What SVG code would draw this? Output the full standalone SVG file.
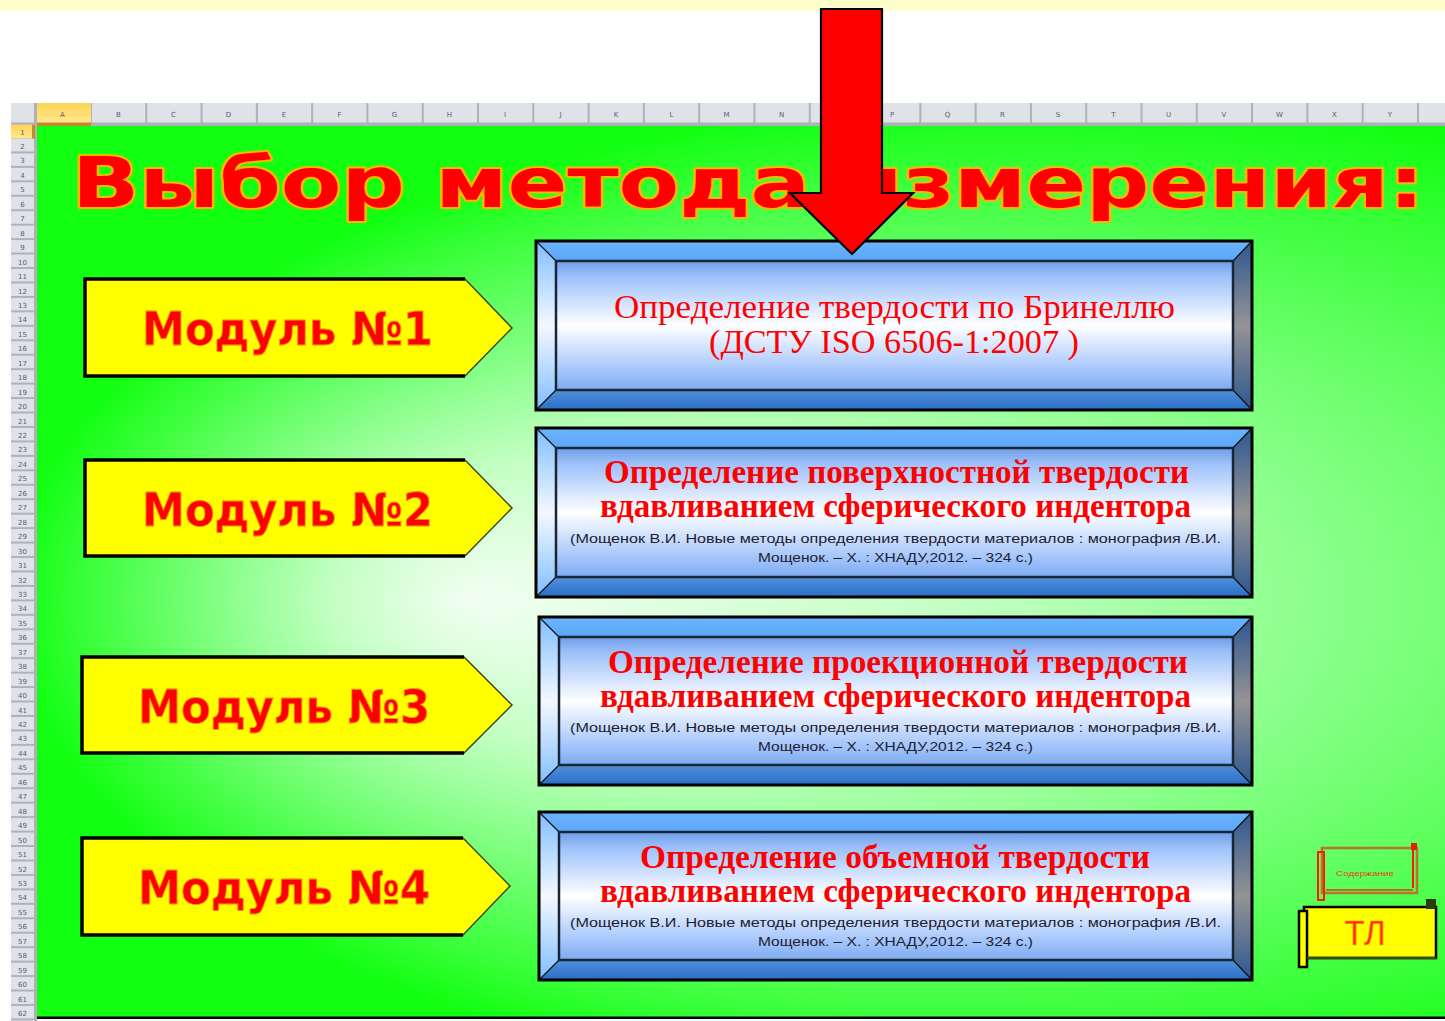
<svg xmlns="http://www.w3.org/2000/svg" width="1445" height="1021" viewBox="0 0 1445 1021">
<defs>
<radialGradient id="gBg" gradientUnits="userSpaceOnUse" cx="0" cy="0" r="1" fx="-0.56" fy="0" gradientTransform="translate(1050 600) scale(1036 500)">
<stop offset="0" stop-color="#F2FFF2"/>
<stop offset="0.3" stop-color="#C4FFC4"/>
<stop offset="0.5" stop-color="#92FF92"/>
<stop offset="0.75" stop-color="#52FF52"/>
<stop offset="1" stop-color="#12FF12"/>
</radialGradient>
<linearGradient id="gHdrA" x1="0" y1="0" x2="0" y2="1"><stop offset="0" stop-color="#FFD257"/><stop offset="1" stop-color="#FFE98C"/></linearGradient>
<linearGradient id="gT" x1="0" y1="0" x2="0" y2="1"><stop offset="0" stop-color="#6AB4FF"/><stop offset="1" stop-color="#5CA6F8"/></linearGradient>
<linearGradient id="gB" x1="0" y1="0" x2="0" y2="1"><stop offset="0" stop-color="#5290DC"/><stop offset="1" stop-color="#2A6EC6"/></linearGradient>
<linearGradient id="gL" x1="0" y1="0" x2="0" y2="1"><stop offset="0" stop-color="#7FBEFF"/><stop offset="0.5" stop-color="#F4F8FF"/><stop offset="1" stop-color="#7FBEFF"/></linearGradient>
<linearGradient id="gR" x1="0" y1="0" x2="0" y2="1"><stop offset="0" stop-color="#2E5690"/><stop offset="0.5" stop-color="#949494"/><stop offset="1" stop-color="#2E5690"/></linearGradient>
<linearGradient id="gP" x1="0" y1="0" x2="0" y2="1"><stop offset="0" stop-color="#6E9EE8"/><stop offset="0.12" stop-color="#9CC0FA"/><stop offset="0.5" stop-color="#FFFFFF"/><stop offset="0.88" stop-color="#9CC0FA"/><stop offset="1" stop-color="#7EAAF0"/></linearGradient>
<pattern id="pCol" patternUnits="userSpaceOnUse" x="90" y="0" width="55.29" height="30"><rect x="0" y="0" width="2" height="30" fill="#AEB2B8"/></pattern>
<pattern id="pRow" patternUnits="userSpaceOnUse" x="0" y="124.5" width="40" height="14.45"><rect x="0" y="12.45" width="40" height="2" fill="#AEB2B8"/></pattern>
<style>
.hdr{fill:#DFE3E8}
.gry{fill:#AEB2B8}
.lbl{font-family:"DejaVu Sans",sans-serif;font-size:7px;fill:#5A5A6A;text-anchor:middle}
.title{font-family:"DejaVu Sans","Liberation Sans",sans-serif;font-weight:bold;font-size:70px;fill:#FF0000;stroke:#FFB400;stroke-width:4;paint-order:stroke;stroke-linejoin:round}
.mp{fill:#FFFF00;stroke:#3A4A1A;stroke-width:1.5}
.ml{fill:none;stroke:#000;stroke-width:3.5}
.mt{font-family:"DejaVu Sans",sans-serif;font-weight:bold;font-size:46px;fill:#FF0000;stroke:#FF9000;stroke-width:0.8;text-anchor:middle}
.bvT{fill:url(#gT)}
.bvB{fill:url(#gB)}
.bvL{fill:url(#gL)}
.bvR{fill:url(#gR)}
.pan{fill:url(#gP);stroke:#1A2633;stroke-width:2.5}
.frm{fill:none;stroke:#000;stroke-width:3}
.dg{fill:none;stroke:#111;stroke-width:1.2}
.bt{font-family:"Liberation Serif",serif;font-size:33px;fill:#FF0000;text-anchor:middle}
.bb{font-weight:bold}
.st{font-family:"Liberation Sans",sans-serif;font-size:12px;fill:#1E2030;text-anchor:middle}
</style>
</defs>

<!-- window background -->
<rect x="0" y="0" width="1445" height="1021" fill="#FFFFFF"/>
<rect x="0" y="0" width="1445" height="11" fill="#FFFFCC"/>

<!-- sheet grid headers -->
<g id="sheet-headers">
<rect class="hdr" x="11" y="103" width="1434" height="20"/>
<rect x="11" y="103" width="1434" height="20" fill="url(#pCol)"/>
<rect class="gry" x="11" y="122.5" width="1434" height="3.5"/>
<rect x="35" y="103" width="56" height="20" fill="url(#gHdrA)"/>
<rect x="35" y="122.5" width="56" height="3.5" fill="#C48A2E"/>
<rect class="hdr" x="11" y="126" width="23" height="895"/>
<rect x="11" y="126" width="23" height="895" fill="url(#pRow)"/>
<rect class="gry" x="34" y="103" width="3" height="918"/>
<rect x="11" y="124.5" width="23" height="14" fill="url(#gHdrA)"/>
<rect x="32" y="124.5" width="3" height="14" fill="#C48A2E"/>
<text class="lbl" y="117"><tspan x="62.5">A</tspan><tspan x="118.5">B</tspan><tspan x="173.5">C</tspan><tspan x="228.5">D</tspan><tspan x="284">E</tspan><tspan x="339.5">F</tspan><tspan x="394.5">G</tspan><tspan x="449.5">H</tspan><tspan x="505">I</tspan><tspan x="560.5">J</tspan><tspan x="616">K</tspan><tspan x="671.5">L</tspan><tspan x="726.5">M</tspan><tspan x="781.5">N</tspan><tspan x="892">P</tspan><tspan x="947.5">Q</tspan><tspan x="1002.5">R</tspan><tspan x="1058">S</tspan><tspan x="1113.5">T</tspan><tspan x="1168.5">U</tspan><tspan x="1224">V</tspan><tspan x="1279.5">W</tspan><tspan x="1334.5">X</tspan><tspan x="1390">Y</tspan></text>
<text class="lbl" x="22.5"><tspan x="22.5" y="134.5">1</tspan><tspan x="22.5" y="149">2</tspan><tspan x="22.5" y="163.4">3</tspan><tspan x="22.5" y="177.9">4</tspan><tspan x="22.5" y="192.3">5</tspan><tspan x="22.5" y="206.8">6</tspan><tspan x="22.5" y="221.2">7</tspan><tspan x="22.5" y="235.7">8</tspan><tspan x="22.5" y="250.1">9</tspan><tspan x="22.5" y="264.6">10</tspan><tspan x="22.5" y="279">11</tspan><tspan x="22.5" y="293.5">12</tspan><tspan x="22.5" y="307.9">13</tspan><tspan x="22.5" y="322.4">14</tspan><tspan x="22.5" y="336.8">15</tspan><tspan x="22.5" y="351.3">16</tspan><tspan x="22.5" y="365.7">17</tspan><tspan x="22.5" y="380.2">18</tspan><tspan x="22.5" y="394.6">19</tspan><tspan x="22.5" y="409.1">20</tspan><tspan x="22.5" y="423.5">21</tspan><tspan x="22.5" y="438">22</tspan><tspan x="22.5" y="452.4">23</tspan><tspan x="22.5" y="466.9">24</tspan><tspan x="22.5" y="481.3">25</tspan><tspan x="22.5" y="495.8">26</tspan><tspan x="22.5" y="510.2">27</tspan><tspan x="22.5" y="524.7">28</tspan><tspan x="22.5" y="539.1">29</tspan><tspan x="22.5" y="553.6">30</tspan><tspan x="22.5" y="568">31</tspan><tspan x="22.5" y="582.5">32</tspan><tspan x="22.5" y="596.9">33</tspan><tspan x="22.5" y="611.4">34</tspan><tspan x="22.5" y="625.8">35</tspan><tspan x="22.5" y="640.3">36</tspan><tspan x="22.5" y="654.7">37</tspan><tspan x="22.5" y="669.2">38</tspan><tspan x="22.5" y="683.6">39</tspan><tspan x="22.5" y="698.1">40</tspan><tspan x="22.5" y="712.5">41</tspan><tspan x="22.5" y="727">42</tspan><tspan x="22.5" y="741.4">43</tspan><tspan x="22.5" y="755.9">44</tspan><tspan x="22.5" y="770.3">45</tspan><tspan x="22.5" y="784.8">46</tspan><tspan x="22.5" y="799.2">47</tspan><tspan x="22.5" y="813.7">48</tspan><tspan x="22.5" y="828.1">49</tspan><tspan x="22.5" y="842.6">50</tspan><tspan x="22.5" y="857">51</tspan><tspan x="22.5" y="871.5">52</tspan><tspan x="22.5" y="885.9">53</tspan><tspan x="22.5" y="900.4">54</tspan><tspan x="22.5" y="914.8">55</tspan><tspan x="22.5" y="929.3">56</tspan><tspan x="22.5" y="943.7">57</tspan><tspan x="22.5" y="958.2">58</tspan><tspan x="22.5" y="972.6">59</tspan><tspan x="22.5" y="987.1">60</tspan><tspan x="22.5" y="1001.5">61</tspan><tspan x="22.5" y="1016">62</tspan></text>
</g>

<!-- green sheet -->
<rect x="37" y="126" width="1408" height="891" fill="url(#gBg)"/>
<rect x="37" y="1016.5" width="1408" height="2.5" fill="#000"/>

<g id="title">
<text class="title" x="72" y="207" textLength="1352" lengthAdjust="spacingAndGlyphs">Выбор метода измерения:</text>
</g>

<!-- module arrows -->
<g id="module1">
<polygon class="mp" points="85,279 465,279 512,328 465,376 85,376"/>
<polyline class="ml" points="465,279 85,279 85,376 465,376"/>
<text class="mt" x="287.5" y="345" textLength="291" lengthAdjust="spacingAndGlyphs">Модуль №1</text>
</g>
<g id="module2">
<polygon class="mp" points="85,460 465,460 512,508 465,556 85,556"/>
<polyline class="ml" points="465,460 85,460 85,556 465,556"/>
<text class="mt" x="287.5" y="526" textLength="291" lengthAdjust="spacingAndGlyphs">Модуль №2</text>
</g>
<g id="module3">
<polygon class="mp" points="82,657 464,657 512,705 464,753 82,753"/>
<polyline class="ml" points="464,657 82,657 82,753 464,753"/>
<text class="mt" x="284" y="723" textLength="292" lengthAdjust="spacingAndGlyphs">Модуль №3</text>
</g>
<g id="module4">
<polygon class="mp" points="82,838 463,838 510,886 463,935 82,935"/>
<polyline class="ml" points="463,838 82,838 82,935 463,935"/>
<text class="mt" x="284" y="904" textLength="292" lengthAdjust="spacingAndGlyphs">Модуль №4</text>
</g>

<!-- method buttons -->
<g id="method1">
<polygon class="bvT" points="536,241 1252,241 1233,261 556,261"/>
<polygon class="bvB" points="536,410 1252,410 1233,390 556,390"/>
<polygon class="bvL" points="536,241 556,261 556,390 536,410"/>
<polygon class="bvR" points="1252,241 1233,261 1233,390 1252,410"/>
<path class="dg" d="M536 241L556 261M1252 241L1233 261M536 410L556 390M1252 410L1233 390"/>
<rect class="pan" x="556" y="261" width="677" height="129"/>
<rect class="frm" x="536" y="241" width="716" height="169"/>
<text class="bt" x="894.5" y="318" textLength="561" lengthAdjust="spacingAndGlyphs">Определение твердости по Бринеллю</text>
<text class="bt" x="894" y="353" textLength="370" lengthAdjust="spacingAndGlyphs">(ДСТУ ISO 6506-1:2007 )</text>
</g>
<g id="method2">
<polygon class="bvT" points="536,428 1252,428 1233,448 556,448"/>
<polygon class="bvB" points="536,597 1252,597 1233,577 556,577"/>
<polygon class="bvL" points="536,428 556,448 556,577 536,597"/>
<polygon class="bvR" points="1252,428 1233,448 1233,577 1252,597"/>
<path class="dg" d="M536 428L556 448M1252 428L1233 448M536 597L556 577M1252 597L1233 577"/>
<rect class="pan" x="556" y="448" width="677" height="129"/>
<rect class="frm" x="536" y="428" width="716" height="169"/>
<text class="bt bb" x="896.5" y="483" textLength="585" lengthAdjust="spacingAndGlyphs">Определение поверхностной твердости</text>
<text class="bt bb" x="895.5" y="517" textLength="591" lengthAdjust="spacingAndGlyphs">вдавливанием сферического индентора</text>
<text class="st" x="895.5" y="543" textLength="651" lengthAdjust="spacingAndGlyphs">(Мощенок В.И. Новые методы определения твердости материалов : монография /В.И.</text>
<text class="st" x="895.5" y="562" textLength="275" lengthAdjust="spacingAndGlyphs">Мощенок. – Х. : ХНАДУ,2012. – 324 с.)</text>
</g>
<g id="method3">
<polygon class="bvT" points="539,617 1252,617 1233,637 559,637"/>
<polygon class="bvB" points="539,785 1252,785 1233,765 559,765"/>
<polygon class="bvL" points="539,617 559,637 559,765 539,785"/>
<polygon class="bvR" points="1252,617 1233,637 1233,765 1252,785"/>
<path class="dg" d="M539 617L559 637M1252 617L1233 637M539 785L559 765M1252 785L1233 765"/>
<rect class="pan" x="559" y="637" width="674" height="128"/>
<rect class="frm" x="539" y="617" width="713" height="168"/>
<text class="bt bb" x="898" y="673" textLength="580" lengthAdjust="spacingAndGlyphs">Определение проекционной твердости</text>
<text class="bt bb" x="895.5" y="707" textLength="591" lengthAdjust="spacingAndGlyphs">вдавливанием сферического индентора</text>
<text class="st" x="895.5" y="732" textLength="651" lengthAdjust="spacingAndGlyphs">(Мощенок В.И. Новые методы определения твердости материалов : монография /В.И.</text>
<text class="st" x="895.5" y="751" textLength="275" lengthAdjust="spacingAndGlyphs">Мощенок. – Х. : ХНАДУ,2012. – 324 с.)</text>
</g>
<g id="method4">
<polygon class="bvT" points="539,812 1252,812 1233,832 559,832"/>
<polygon class="bvB" points="539,980 1252,980 1233,960 559,960"/>
<polygon class="bvL" points="539,812 559,832 559,960 539,980"/>
<polygon class="bvR" points="1252,812 1233,832 1233,960 1252,980"/>
<path class="dg" d="M539 812L559 832M1252 812L1233 832M539 980L559 960M1252 980L1233 960"/>
<rect class="pan" x="559" y="832" width="674" height="128"/>
<rect class="frm" x="539" y="812" width="713" height="168"/>
<text class="bt bb" x="895" y="868" textLength="510" lengthAdjust="spacingAndGlyphs">Определение объемной твердости</text>
<text class="bt bb" x="895.5" y="902" textLength="591" lengthAdjust="spacingAndGlyphs">вдавливанием сферического индентора</text>
<text class="st" x="895.5" y="927" textLength="651" lengthAdjust="spacingAndGlyphs">(Мощенок В.И. Новые методы определения твердости материалов : монография /В.И.</text>
<text class="st" x="895.5" y="946" textLength="275" lengthAdjust="spacingAndGlyphs">Мощенок. – Х. : ХНАДУ,2012. – 324 с.)</text>
</g>

<!-- scroll buttons -->
<g id="scroll-contents">
<rect x="1322" y="848" width="95" height="45" fill="none" stroke="#B8742A" stroke-width="2.5"/>
<rect x="1318" y="852" width="6" height="48" fill="none" stroke="#FF1A00" stroke-width="2"/>
<rect x="1411" y="843" width="6" height="7" fill="#E02010"/>
<line x1="1413" y1="850" x2="1413" y2="888" stroke="#FF1A00" stroke-width="2"/>
<line x1="1326" y1="890" x2="1413" y2="890" stroke="#E03A10" stroke-width="1.5"/>
<text x="1365" y="876" font-family="Liberation Sans, sans-serif" font-size="8" fill="#E83A20" text-anchor="middle" textLength="58" lengthAdjust="spacingAndGlyphs">Содержание</text>
</g>
<g id="scroll-tl">
<rect x="1304" y="907" width="132" height="51" fill="#FFFF00" stroke="#000" stroke-width="2.5"/>
<rect x="1299" y="911" width="8" height="56" fill="#FFFF00" stroke="#000" stroke-width="2.5"/>
<rect x="1426" y="899" width="10" height="10" fill="#2A3A10"/>
<line x1="1307" y1="958" x2="1436" y2="958" stroke="#3A4A10" stroke-width="2.5"/>
<text x="1365" y="945" font-family="Liberation Sans, sans-serif" font-size="35" fill="#FF3000" stroke="#FFA000" stroke-width="0.6" text-anchor="middle" textLength="41" lengthAdjust="spacingAndGlyphs">ТЛ</text>
</g>

<!-- connector: big red arrow -->
<g id="connectors">
<polygon points="821,9 882,9 882,193 913,193 852,254 790,193 821,193" fill="#FF0000" stroke="#000" stroke-width="2.2" stroke-linejoin="miter"/>
</g>
</svg>
